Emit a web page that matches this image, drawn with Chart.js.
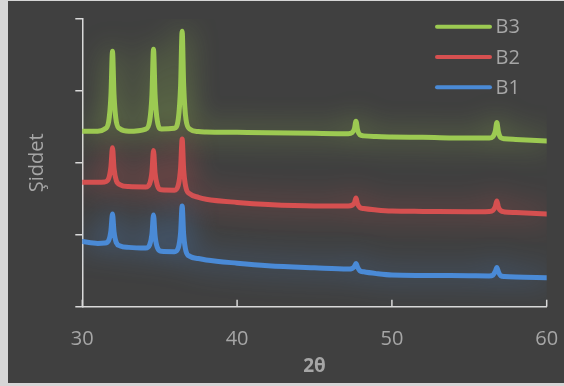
<!DOCTYPE html>
<html>
<head>
<meta charset="utf-8">
<script src="https://cdn.jsdelivr.net/npm/chart.js@4.4.1/dist/chart.umd.min.js"></script>
<style>
  html, body { margin: 0; padding: 0; width: 564px; height: 386px; overflow: hidden; background: #d6d6d6; }
  #wrap { position: absolute; left: 8px; top: 1px; width: 556px; height: 382px; background: #404040; }
  canvas { display: block; }
</style>
</head>
<body>
<div id="wrap"><canvas id="xrd" width="556" height="382"></canvas></div>
<script>
// 2θ positions (degrees) shared by all three patterns
const twoTheta = [
  30, 31,
  31.45, 31.7, 31.85, 31.95, 32.05, 32.2, 32.45,
  33,
  34.1, 34.35, 34.5, 34.6, 34.7, 34.85, 35.1,
  35.95, 36.2, 36.35, 36.45, 36.55, 36.7, 36.95,
  37.5, 38, 40, 42, 45,
  47.18, 47.43, 47.58, 47.68, 47.78, 47.93, 48.18,
  49, 50, 52, 55,
  56.28, 56.53, 56.68, 56.78, 56.88, 57.03, 57.28,
  58, 60
];

// Intensity (arbitrary units, curves stacked)
const intensityB1 = [
  90.5, 88,
  88.5, 92, 106, 129, 104, 89, 84.5,
  82.5,
  81.5, 86, 101, 127.5, 99, 82, 77,
  76.5, 82, 103, 140, 100, 77, 70,
  67, 65, 60.5, 57, 54,
  52.3, 53.2, 56, 60, 55, 50, 48.5,
  46, 44, 43.5, 43,
  42.8, 44, 49, 54.5, 48.5, 43, 42,
  41.3, 40.3
];
const intensityB2 = [
  173, 173,
  173.5, 178, 195, 221, 192, 175, 169.5,
  167,
  166.5, 171, 188, 217, 186, 168.5, 162.5,
  162, 169, 193, 233, 190, 165, 157,
  152, 149.5, 145, 142, 140,
  140, 141, 144.5, 151, 143, 138, 136.5,
  134.5, 133, 132.5, 132,
  132.5, 134, 139, 147, 138.5, 133.5, 131.8,
  131, 129
];
const intensityB3 = [
  244, 244,
  247, 257, 294, 355, 294, 257, 247,
  244,
  247, 258, 295, 358, 295, 258, 247,
  248, 261, 307, 383, 307, 260, 247,
  243.5, 243, 242.5, 242, 241,
  240.5, 242, 247.5, 258, 246, 239, 237.5,
  236.5, 236, 235.5, 234.5,
  234.5, 236.5, 244, 256, 243, 235, 233.5,
  232.5, 230.5
];

const seriesNames = ['B1', 'B2', 'B3'];
const xTickValues = [30, 40, 50, 60];
const yTickValues = [0, 100, 200, 300, 400];

const lineColors = ['#4a8ad6', '#d65050', '#9cca52'];
const glowColors = ['rgba(74,138,214,0.75)', 'rgba(214,80,80,0.75)', 'rgba(156,202,82,0.75)'];
const axisColor = '#d9d9d9';
const textColor = '#a6a6a6';
const FONT = "'Open Sans', 'Noto Sans', sans-serif";

const toPoints = ys => twoTheta.map((x, i) => ({ x, y: ys[i] }));

// soft coloured halo around every trace
const glowPlugin = {
  id: 'glow',
  beforeDatasetDraw(chart, args) {
    const ctx = chart.ctx;
    ctx.save();
    ctx.shadowColor = glowColors[args.index];
    ctx.shadowBlur = 28;
  },
  afterDatasetDraw(chart) {
    chart.ctx.restore();
  }
};

// x-axis tick marks pointing into the plot
const innerTicksPlugin = {
  id: 'innerTicks',
  afterDraw(chart) {
    const s = chart.scales.x, ctx = chart.ctx, y0 = chart.chartArea.bottom;
    ctx.save();
    ctx.strokeStyle = axisColor;
    ctx.lineWidth = 1.5;
    xTickValues.forEach(v => {
      const px = s.getPixelForValue(v);
      ctx.beginPath();
      ctx.moveTo(px, y0);
      ctx.lineTo(px, y0 - 7);
      ctx.stroke();
    });
    ctx.restore();
  }
};

// legend stacked top-right, B3 first
const legendPlugin = {
  id: 'stackLegend',
  afterDraw(chart) {
    const ctx = chart.ctx;
    ctx.save();
    ctx.font = `20px ${FONT}`;
    ctx.textBaseline = 'middle';
    ctx.textAlign = 'left';
    [2, 1, 0].forEach((i, k) => {
      const y = 25.7 + k * 30.3;
      ctx.strokeStyle = lineColors[i];
      ctx.lineWidth = 4;
      ctx.lineCap = 'round';
      ctx.beginPath();
      ctx.moveTo(429, y);
      ctx.lineTo(482, y);
      ctx.stroke();
      ctx.fillStyle = textColor;
      ctx.fillText(chart.data.datasets[i].label, 487.5, y + 1);
    });
    ctx.restore();
  }
};

const datasets = [intensityB1, intensityB2, intensityB3].map((ys, i) => ({
  label: seriesNames[i],
  data: toPoints(ys),
  borderColor: lineColors[i],
  backgroundColor: lineColors[i],
  borderWidth: 5,
  pointRadius: 0,
  cubicInterpolationMode: 'monotone',
  borderJoinStyle: 'round',
  borderCapStyle: 'round',
  fill: false
}));

new Chart(document.getElementById('xrd'), {
  type: 'line',
  data: { datasets },
  plugins: [glowPlugin, innerTicksPlugin, legendPlugin],
  options: {
    responsive: false,
    animation: false,
    devicePixelRatio: 1,
    layout: { padding: { top: 18, right: 17.3, left: 0, bottom: 0 } },
    plugins: { legend: { display: false }, tooltip: { enabled: false } },
    scales: {
      x: {
        type: 'linear',
        min: 30, max: 60,
        afterFit: s => { s.height = 76.3; s.paddingLeft = 0; s.paddingRight = 0; },
        afterBuildTicks: s => { s.ticks = xTickValues.map(v => ({ value: v })); },
        grid: { display: false, drawTicks: false },
        border: { display: true, color: axisColor, width: 1.5 },
        ticks: { color: textColor, padding: 21, maxRotation: 0, font: { family: FONT, size: 20 } },
        title: { display: true, text: '2θ', color: textColor, padding: { top: 0, bottom: 4.6 }, font: { family: FONT, size: 19, weight: 'bold' } }
      },
      y: {
        type: 'linear',
        min: 0, max: 400,
        afterFit: s => { s.width = 74.3; s.paddingTop = 0; s.paddingBottom = 0; },
        afterBuildTicks: s => { s.ticks = yTickValues.map(v => ({ value: v })); },
        grid: { drawOnChartArea: false, drawTicks: true, tickLength: 7, color: axisColor, lineWidth: 1.5 },
        border: { display: true, color: axisColor, width: 1.5 },
        ticks: { display: false },
        title: { display: true, text: 'Şiddet', color: textColor, padding: { top: 17, bottom: 0 }, font: { family: FONT, size: 20 } }
      }
    }
  }
});
</script>
</body>
</html>
